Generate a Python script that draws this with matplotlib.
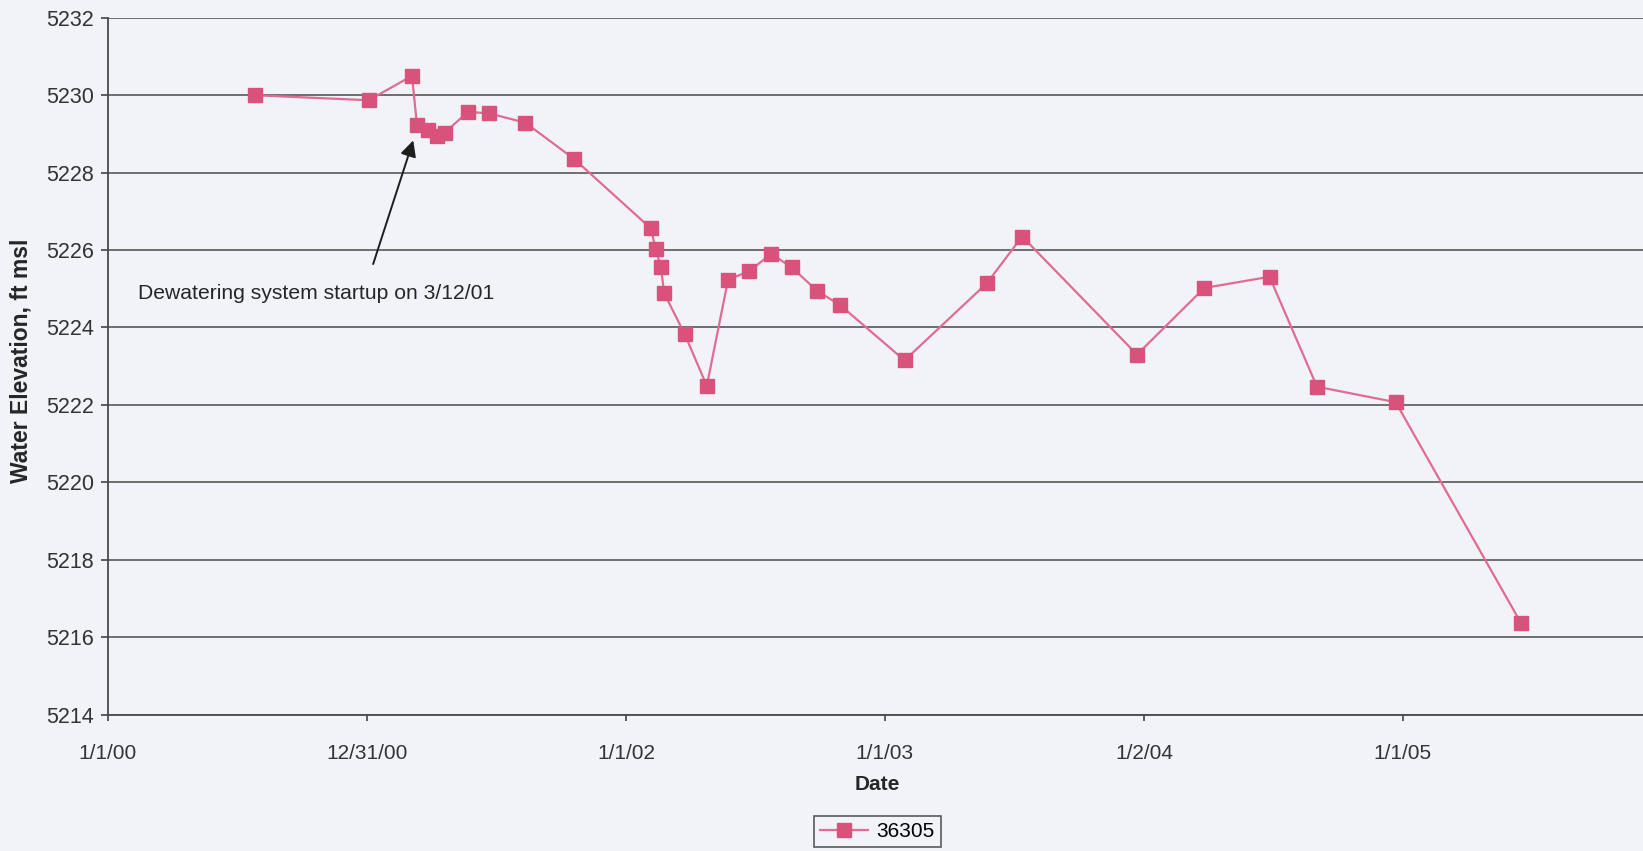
import matplotlib
matplotlib.use("Agg")
import matplotlib.pyplot as plt
import pandas as pd

plt.rcParams["font.family"] = ["Liberation Sans", "DejaVu Sans"]

# water level readings, well 36305
fechas = ["2000-07-26", "2001-01-03", "2001-03-05", "2001-03-12", "2001-03-28",
          "2001-04-10", "2001-04-20", "2001-05-23", "2001-06-22", "2001-08-12",
          "2001-10-20", "2002-02-05", "2002-02-12", "2002-02-19", "2002-02-24",
          "2002-03-25", "2002-04-25", "2002-05-25", "2002-06-24", "2002-07-25",
          "2002-08-23", "2002-09-28", "2002-10-30", "2003-01-29", "2003-05-25",
          "2003-07-14", "2003-12-23", "2004-03-27", "2004-06-27", "2004-09-02",
          "2004-12-22", "2005-06-17"]
nivel = [5230.00, 5229.87, 5230.50, 5229.24, 5229.10,
         5228.95, 5229.03, 5229.57, 5229.53, 5229.29,
         5228.35, 5226.56, 5226.02, 5225.57, 5224.88,
         5223.82, 5222.49, 5225.23, 5225.46, 5225.90,
         5225.55, 5224.94, 5224.58, 5223.15, 5225.14,
         5226.35, 5223.30, 5225.02, 5225.31, 5222.47,
         5222.07, 5216.36]
pozo = "36305"

tick_fechas = ["2000-01-01", "2000-12-31", "2002-01-01", "2003-01-01", "2004-01-02", "2005-01-01"]
tick_labels = ["1/1/00", "12/31/00", "1/1/02", "1/1/03", "1/2/04", "1/1/05"]
y_ticks = list(range(5214, 5233, 2))

fondo = "#f1f3f8"
fig = plt.figure(figsize=(16.43, 8.51), dpi=100, facecolor=fondo)
ax = fig.add_axes([0.0657, 0.1603, 0.9343, 0.8188])
ax.set_facecolor(fondo)

x = pd.to_datetime(fechas)
ax.plot(x, nivel, "-", color="#e06c91", lw=1.6, marker="s", ms=9.5,
        mfc="#d9527c", mec="#d9527c", label=pozo, zorder=3)

ax.set_xlim(pd.Timestamp("2000-01-01"), pd.Timestamp("2005-12-06"))
ax.set_ylim(5214, 5232)
ax.set_yticks(y_ticks)
ax.set_xticks(pd.to_datetime(tick_fechas))
ax.set_xticklabels(tick_labels)
ax.yaxis.grid(True, color="#646464", lw=1.3)
ax.set_axisbelow(True)

for s in ["top", "right"]:
    ax.spines[s].set_visible(False)
for s in ["left", "bottom"]:
    ax.spines[s].set_color("#4a4a4a")
    ax.spines[s].set_linewidth(1.3)

ax.tick_params(axis="y", labelsize=15.5, colors="#333333", length=5, width=1.1, pad=5)
ax.tick_params(axis="x", labelsize=15, colors="#333333", length=4, width=1.1, pad=17)

ax.set_xlabel("Date", fontsize=15, fontweight="bold", color="#262626")
ax.xaxis.set_label_coords(0.501, -0.086)
ax.set_ylabel("Water Elevation, ft msl", fontsize=16.5, fontweight="bold", color="#262626")
ax.yaxis.set_label_coords(-0.049, 0.507)

# startup note
ax.text(pd.Timestamp("2000-02-13"), 5224.89, "Dewatering system startup on 3/12/01",
        fontsize=15.2, color="#262626", va="center", ha="left")
ax.annotate("", xy=(pd.Timestamp("2001-03-08"), 5228.9),
            xytext=(pd.Timestamp("2001-01-08"), 5225.57),
            arrowprops=dict(arrowstyle="-|>", color="#1e1e1e", lw=1.4, mutation_scale=24))

leg = fig.legend(loc="center", bbox_to_anchor=(0.534, 0.0229), fontsize=15,
                 frameon=True, fancybox=False, edgecolor="#333333",
                 handlelength=2.3, borderpad=0.3, handletextpad=0.4)
leg.get_frame().set_linewidth(1.2)
leg.get_frame().set_facecolor(fondo)

fig.savefig("out.png", dpi=100, facecolor=fondo)
